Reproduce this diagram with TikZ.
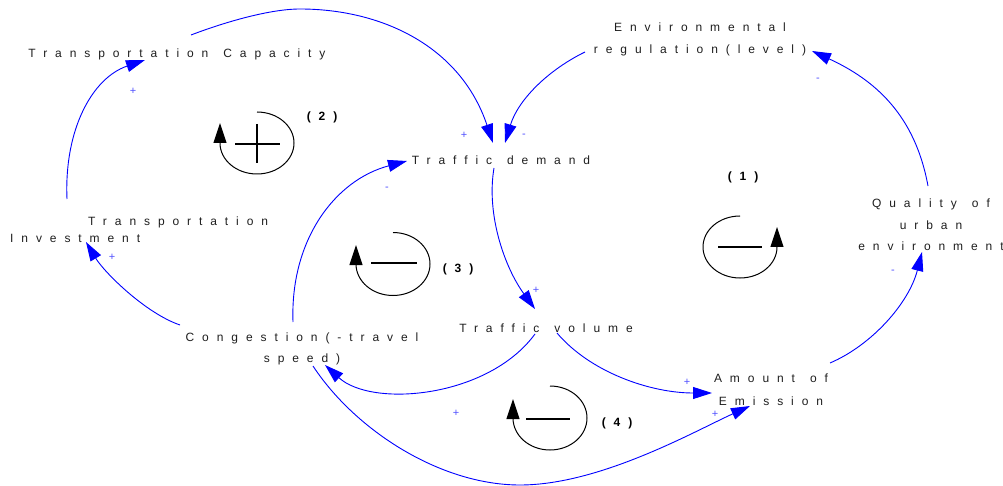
\documentclass[tikz,border=0pt]{standalone}
\usepackage{fontspec}
\setmainfont{Liberation Sans}
\newfontfamily\labfont[LetterSpace=66]{Liberation Sans}
\newcommand{\wsp}{\hspace{15pt}}
\usetikzlibrary{arrows.meta}
\definecolor{linkblue}{RGB}{0,0,255}
\definecolor{signblue}{RGB}{80,80,255}
\definecolor{txt}{RGB}{30,30,30}
\begin{document}
\begin{tikzpicture}[x=1pt,y=-1pt,
  lab/.style={inner sep=0pt, text=txt, font=\labfont\fontsize{12}{22}\selectfont, align=center},
  link/.style={draw=linkblue, line width=0.9pt, -{Triangle[length=19pt,width=12pt]}},
  sign/.style={inner sep=0pt, text=signblue, font=\fontsize{11}{11}\selectfont},
  loopnum/.style={inner sep=0pt, text=black, font=\labfont\bfseries\fontsize{12}{12}\selectfont},
  looparc/.style={draw=black, line width=1pt, -{Triangle[length=20pt,width=13pt]}},
  loopsign/.style={draw=black, line width=2.6pt}
]
\useasboundingbox (0,0) rectangle (1003,486);

% variables
\node[lab] (tc) at (177,54) {Transportation\wsp Capacity};
\node[lab] (er) at (700,39) {Environmental\\regulation(level)};
\node[lab] (td) at (501,160) {Traffic\wsp demand};
\node[lab, font=\labfont\fontsize{12}{21.5}\selectfont] (qu) at (931,225) {Quality\wsp of\\urban\\environment};
\node[lab, align=left, anchor=west, font=\labfont\fontsize{12}{17}\selectfont] (ti) at (10,229.5) {\hspace*{78pt}Transportation\\Investment};
\node[lab, font=\labfont\fontsize{12}{21}\selectfont] (cg) at (302,349) {Congestion(-travel\\speed)};
\node[lab] (tv) at (546,328) {Traffic\wsp volume};
\node[lab, font=\labfont\fontsize{12}{23}\selectfont] (ae) at (771,390) {Amount\wsp of\\Emission};

% links
\draw[link] ([shift={(57,-30.5)}]ti.west) .. controls (64,130) and (92,78) .. ([shift={(-32,6)}]tc.center);
\draw[link] ([shift={(14,-19)}]tc.center) .. controls (225,22) and (270,9) .. (300,9) .. controls (380,9) and (460,45) .. ([shift={(-8,-17)}]td.center);
\draw[link] ([shift={(-115,13)}]er.center) .. controls (548,70) and (518,100) .. ([shift={(4,-17)}]td.center);
\draw[link] ([shift={(-3,-39)}]qu.center) .. controls (915,115) and (875,80) .. ([shift={(112,12)}]er.center);
\draw[link] ([shift={(59,-27)}]ae.center) .. controls (872,345) and (909,303) .. ([shift={(-9,27)}]qu.center);
\draw[link] ([shift={(-7,8)}]td.center) .. controls (486,215) and (505,268) .. ([shift={(-11,-19)}]tv.center);
\draw[link] ([shift={(-9,-27)}]cg.center) .. controls (290,240) and (335,180) .. ([shift={(-94,1)}]td.center);
\draw[link] ([shift={(-122,-24)}]cg.center) .. controls (145,313) and (104,272) .. ([shift={(76,12.5)}]ti.west);
\draw[link] ([shift={(-11,6)}]tv.center) .. controls (488,398) and (372,408) .. ([shift={(23,16)}]cg.center);
\draw[link] ([shift={(11,5)}]tv.center) .. controls (590,372) and (650,393) .. ([shift={(-59,3)}]ae.center);
\draw[link] ([shift={(11,17)}]cg.center) .. controls (355,430) and (440,485) .. (520,485) .. controls (600,485) and (695,431) .. ([shift={(-21,16)}]ae.center);

% polarity signs
\node[sign] (sA) at (133,91) {+};
\node[sign] (sB) at (464,135) {+};
\node[sign] (sC) at (524,136) {-};
\node[sign] (sD) at (818,80) {-};
\node[sign] (sE) at (893,272) {-};
\node[sign] (sF) at (536,290) {+};
\node[sign] (sG) at (387,189) {-};
\node[sign] (sH) at (112,257) {+};
\node[sign] (sI) at (456,413) {+};
\node[sign] (sJ) at (687,382) {+};
\node[sign] (sK) at (715,414) {+};

% loop symbols
\draw[looparc] (740,216) arc[start angle=-90, end angle=-360, x radius=37, y radius=31] -- ++(0,-20);
\draw[loopsign] (718,247) -- (762,247);
\node[loopnum] (n1) at (743,177) {(1)};

\draw[looparc] (257,112) arc[start angle=-90, end angle=180, x radius=37, y radius=31] -- ++(0,-20);
\draw[loopsign] (235,144) -- (280,144) (257,124) -- (257,163);
\node[loopnum] (n2) at (322,117) {(2)};

\draw[looparc] (393,232.5) arc[start angle=-90, end angle=180, x radius=37, y radius=31.5] -- ++(0,-19);
\draw[loopsign] (371,263) -- (417,263);
\node[loopnum] (n3) at (458,269) {(3)};

\draw[looparc] (550,386) arc[start angle=-90, end angle=180, x radius=37, y radius=32] -- ++(0,-19);
\draw[loopsign] (526,419) -- (570,419);
\node[loopnum] (n4) at (617,423) {(4)};
\end{tikzpicture}
\end{document}
